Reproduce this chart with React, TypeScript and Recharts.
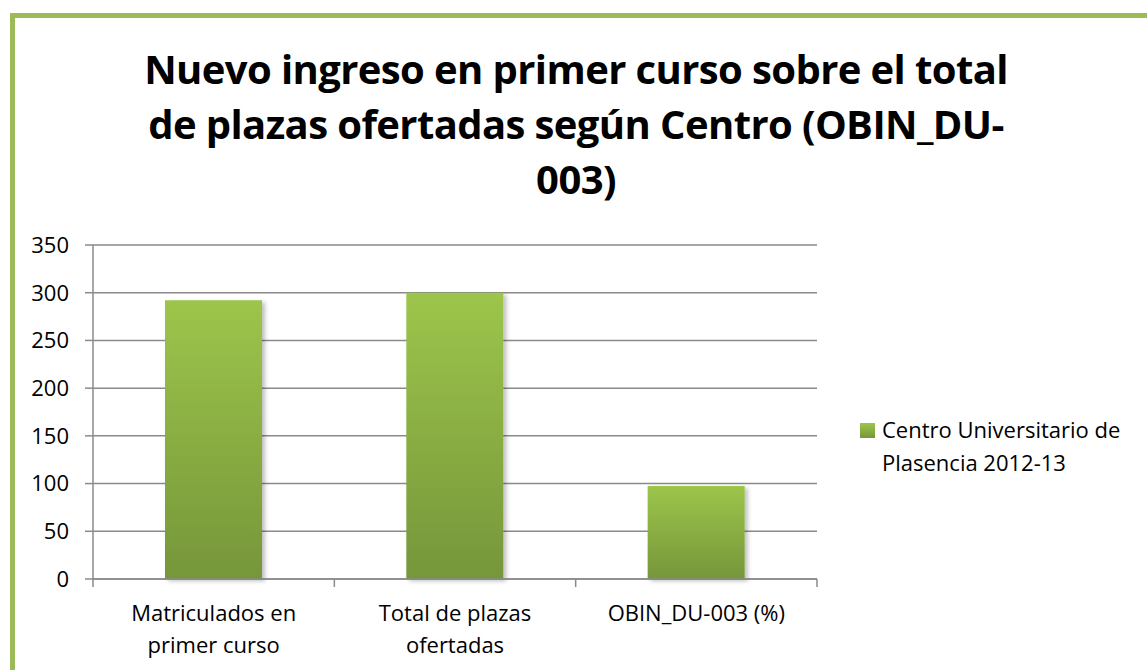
import React from "react";
import { BarChart, Bar, XAxis, YAxis, CartesianGrid } from "recharts";

// values
const categories = ["Matriculados en\nprimer curso", "Total de plazas\nofertadas", "OBIN_DU-003 (%)"];
const values = [292, 300, 97.33];
const yTicks = [0, 50, 100, 150, 200, 250, 300, 350];
const seriesName = "Centro Universitario de\nPlasencia 2012-13";
const titleLines = [
  "Nuevo ingreso en primer curso sobre el total",
  "de plazas ofertadas según Centro (OBIN_DU-",
  "003)",
];

const data = categories.map((c, i) => ({ category: c, value: values[i] }));

const FONT = "'Open Sans', sans-serif";
const GRID = "#8a8a8a";
const W = 1147;
const H = 670;
const PLOT_LEFT = 93;
const PLOT_RIGHT = 817;
const BAND = (PLOT_RIGHT - PLOT_LEFT) / categories.length;

function CategoryTick(props: any) {
  const { x, y, payload, index } = props;
  const lines = String(payload.value).split("\n");
  return (
    <g>
      <line x1={x - BAND / 2} x2={x - BAND / 2} y1={y} y2={y + 8} stroke={GRID} strokeWidth={1.5} />
      {index === categories.length - 1 && (
        <line x1={x + BAND / 2} x2={x + BAND / 2} y1={y} y2={y + 8} stroke={GRID} strokeWidth={1.5} />
      )}
      {lines.map((l, i) => (
        <text
          key={i}
          x={x}
          y={y + 42 + i * 32}
          textAnchor="middle"
          fontFamily={FONT}
          fontSize={22}
          fill="#000"
        >
          {l}
        </text>
      ))}
    </g>
  );
}

function LegendBox() {
  return (
    <div
      style={{
        position: "absolute",
        left: 860,
        top: 413,
        fontFamily: FONT,
        fontSize: 22,
        lineHeight: "33px",
        color: "#000",
      }}
    >
      <div
        style={{
          position: "absolute",
          left: 0,
          top: 10,
          width: 15,
          height: 15,
          background: "linear-gradient(#9dc54b, #77963a)",
        }}
      />
      <div style={{ marginLeft: 22, whiteSpace: "pre" }}>{seriesName}</div>
    </div>
  );
}

export default function App() {
  return (
    <div style={{ position: "fixed", left: 0, top: 0, width: W, height: H, overflow: "hidden", background: "#fff" }}>
      <div
        style={{
          position: "absolute",
          left: 10,
          top: 13,
          width: W + 50,
          height: H + 50,
          borderTop: "5px solid #9bbb59",
          borderLeft: "5px solid #9bbb59",
        }}
      />
      <div
        style={{
          position: "absolute",
          left: 0,
          top: 41,
          width: 1152,
          textAlign: "center",
          fontFamily: FONT,
          fontWeight: 700,
          fontSize: 40,
          lineHeight: "55px",
          color: "#000",
          letterSpacing: -0.6,
        }}
      >
        {titleLines.map((t, i) => (
          <div key={i}>{t}</div>
        ))}
      </div>
      <div style={{ position: "absolute", left: 0, top: 0 }}>
        <BarChart
          width={W}
          height={H}
          data={data}
          margin={{ top: 245, right: W - PLOT_RIGHT, bottom: 11, left: PLOT_LEFT - 70 }}
        >
          <defs>
            <linearGradient id="barGrad" x1="0" y1="0" x2="0" y2="1">
              <stop offset="0%" stopColor="#9dc54b" />
              <stop offset="100%" stopColor="#76963a" />
            </linearGradient>
            <filter id="barShadow" x="-20%" y="-20%" width="140%" height="140%">
              <feDropShadow dx={3} dy={2} stdDeviation={2} floodColor="#000" floodOpacity={0.25} />
            </filter>
          </defs>
          <CartesianGrid vertical={false} stroke={GRID} strokeWidth={1.5} />
          <XAxis
            dataKey="category"
            axisLine={{ stroke: GRID, strokeWidth: 1.5 }}
            tickLine={false}
            tickSize={0}
            tickMargin={0}
            height={80}
            interval={0}
            tick={<CategoryTick />}
          />
          <YAxis
            domain={[0, 350]}
            ticks={yTicks}
            width={70}
            axisLine={{ stroke: GRID, strokeWidth: 1.5 }}
            tickLine={{ stroke: GRID, strokeWidth: 1.5 }}
            tickSize={8}
            tickMargin={16}
            tick={{ fontFamily: FONT, fontSize: 22, fill: "#000" }}
          />
          <Bar
            dataKey="value"
            name={seriesName}
            fill="url(#barGrad)"
            barSize={97}
            filter="url(#barShadow)"
            isAnimationActive={false}
          />
        </BarChart>
      </div>
      <LegendBox />
    </div>
  );
}
